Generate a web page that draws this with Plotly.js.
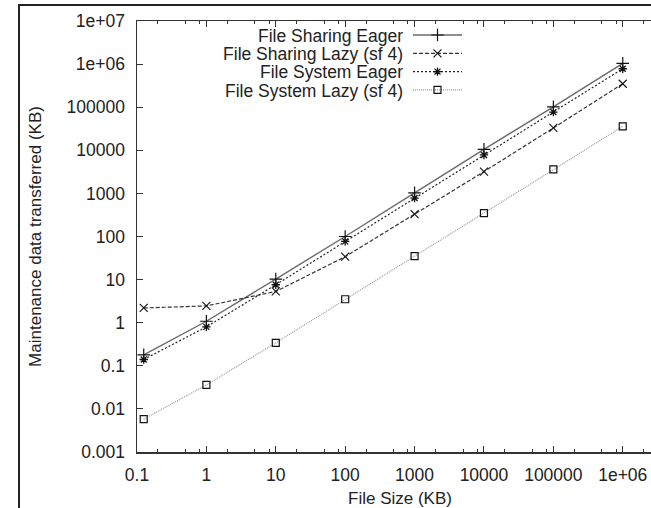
<!DOCTYPE html>
<html>
<head>
<meta charset="utf-8">
<script src="https://cdn.plot.ly/plotly-3.0.1.min.js"></script>
<style>
  html, body { margin:0; padding:0; background:#fff; overflow:hidden; }
  #wrap { position:relative; width:651px; height:508px; overflow:hidden; background:#fff; }
  #plot { position:absolute; left:0; top:0; }
  #frame { position:absolute; left:18px; top:4px; width:900px; height:900px; border:2px solid #222; pointer-events:none; }
</style>
</head>
<body>
<div id="wrap"><div id="plot"></div><div id="frame"></div></div>
<script>
// ---- data ----
const fileSize     = [0.125, 1, 10, 100, 1000, 10000, 100000, 1000000];
const sharingEager = [0.18, 1.08, 10.3, 100, 1030, 10500, 102000, 1040000];
const sharingLazy  = [2.2, 2.45, 5.3, 34, 330, 3200, 33000, 350000];
const systemEager  = [0.14, 0.8, 7.6, 77, 780, 7800, 77000, 780000];
const systemLazy   = [0.0058, 0.036, 0.34, 3.5, 35, 350, 3600, 36000];

const seriesNames = ['File Sharing Eager', 'File Sharing Lazy (sf 4)', 'File System Eager', 'File System Lazy (sf 4)'];

const xTickVals = [0.1, 1, 10, 100, 1000, 10000, 100000, 1000000];
const xTickText = ['0.1', '1', '10', '100', '1000', '10000', '100000', '1e+06'];
const yTickVals = [0.001, 0.01, 0.1, 1, 10, 100, 1000, 10000, 100000, 1000000, 10000000];
const yTickText = ['0.001', '0.01', '0.1', '1', '10', '100', '1000', '10000', '100000', '1e+06', '1e+07'];

// minor x ticks at 2, 5, 8 of every decade
const xMinor = [];
for (let e = -1; e <= 6; e++) { [2, 5, 8].forEach(m => xMinor.push(m * Math.pow(10, e))); }

const FONT = 'Liberation Sans, Arial, Helvetica, sans-serif';
const TXT = '#222';
const FS = 17.5;

const traces = [
  { x: fileSize, y: sharingEager, name: seriesNames[0], mode: 'lines+markers', type: 'scatter',
    line: { color: '#6a6a6a', width: 1.4, dash: 'solid' },
    marker: { symbol: 'cross-thin-open', size: 9, color: '#111', line: { color: '#111', width: 1.2 } } },
  { x: fileSize, y: sharingLazy, name: seriesNames[1], mode: 'lines+markers', type: 'scatter',
    line: { color: '#333', width: 1.2, dash: '4px,2px' },
    marker: { symbol: 'x-thin-open', size: 8, color: '#111', line: { color: '#111', width: 1.1 } } },
  { x: fileSize, y: systemEager, name: seriesNames[2], mode: 'lines+markers', type: 'scatter',
    line: { color: '#222', width: 1.2, dash: '2px,2px' },
    marker: { symbol: 'asterisk-open', size: 7, color: '#111', line: { color: '#111', width: 1.3 } } },
  { x: fileSize, y: systemLazy, name: seriesNames[3], mode: 'lines+markers', type: 'scatter',
    line: { color: '#9a9a9a', width: 1.2, dash: '1px,1px' },
    marker: { symbol: 'square-open', size: 7, color: '#111', line: { color: '#111', width: 1.2 } } }
];

const axisCommon = {
  type: 'log', showgrid: false, zeroline: false,
  showline: true, linecolor: '#333', linewidth: 1.5, mirror: 'ticks',
  ticks: 'inside', ticklen: 6, tickwidth: 1, tickcolor: '#333',
  tickfont: { family: FONT, size: FS, color: TXT },
  automargin: false
};

const layout = {
  width: 680, height: 508,
  margin: { l: 137, r: 17, t: 21, b: 56 },
  paper_bgcolor: '#fff', plot_bgcolor: '#fff',
  font: { family: FONT, size: FS, color: TXT },
  showlegend: true,
  legend: { x: 0, y: 1, xanchor: 'left', yanchor: 'top', bgcolor: 'rgba(0,0,0,0)', borderwidth: 0,
            font: { family: FONT, size: FS, color: TXT } },
  xaxis: Object.assign({}, axisCommon, {
    range: [-1, 6.58], tickmode: 'array', tickvals: xTickVals, ticktext: xTickText,
    ticklabelstandoff: 6,
    minor: { tickmode: 'array', tickvals: xMinor, ticks: 'inside', ticklen: 3, tickcolor: '#333', tickwidth: 1, showgrid: false },
    title: { text: 'File Size (KB)', font: { family: FONT, size: 17, color: TXT }, standoff: 9 }
  }),
  yaxis: Object.assign({}, axisCommon, {
    range: [-3, 7], tickmode: 'array', tickvals: yTickVals, ticktext: yTickText,
    ticklabelstandoff: 7,
    title: { text: 'Maintenance data transferred (KB)', font: { family: FONT, size: 17, color: TXT }, standoff: 20 }
  })
};

const gd = document.getElementById('plot');
Plotly.newPlot(gd, traces, layout, { staticPlot: true, displayModeBar: false }).then(() => {
  // rearrange legend: text right-aligned on the left, sample line + marker on the right
  const legend = gd.querySelector('.legend');
  if (!legend) return;
  legend.setAttribute('transform', 'translate(0,0)');
  legend.querySelectorAll('.scrollbox, .groups').forEach(el => { el.removeAttribute('clip-path'); el.setAttribute('transform', 'translate(0,0)'); });
  legend.removeAttribute('clip-path');
  const bg = legend.querySelector('.bg'); if (bg) bg.setAttribute('width', 0);
  const LX = 413, LY0 = 35, DY = 18.3, LW = 49;
  legend.querySelectorAll('.traces').forEach((g, i) => {
    g.setAttribute('transform', `translate(${LX},${LY0 + i * DY})`);
    const t = g.querySelector('.legendtext');
    if (t) {
      t.setAttribute('x', -10);
      t.setAttribute('text-anchor', 'end');
      t.querySelectorAll('tspan.line').forEach(s => s.setAttribute('x', -10));
    }
    g.querySelectorAll('.legendlines path, .legendfill path').forEach(p => p.setAttribute('d', `M0,0h${LW}`));
    g.querySelectorAll('.legendpoints path').forEach(p => p.setAttribute('transform', `translate(${LW / 2},0)`));
  });
});
</script>
</body>
</html>
